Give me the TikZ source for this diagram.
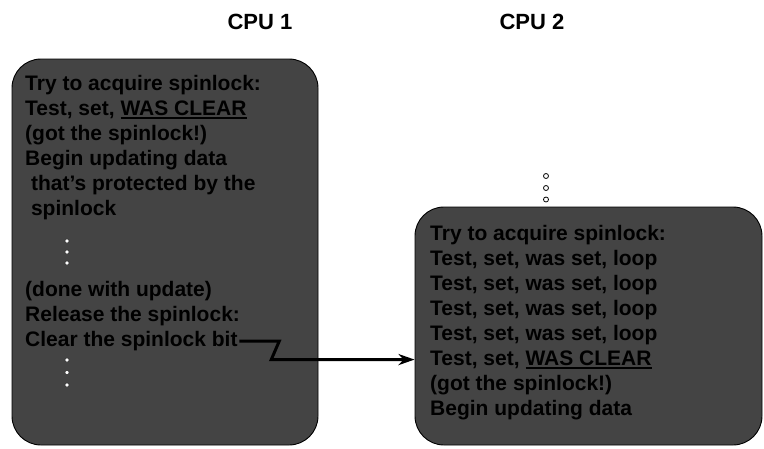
\documentclass[tikz,border=0pt]{standalone}
\usepackage{fontspec}
\setmainfont{Liberation Sans}
\usetikzlibrary{arrows.meta}
\definecolor{panelgray}{RGB}{68,68,68}
% underlined word with a heavier rule
\newcommand\heavyul[1]{\setbox0=\hbox{#1}\rlap{\rule[-3.6pt]{\wd0}{1.8pt}}\box0}
\tikzset{
  panel/.style={draw=black, line width=0.9pt, fill=panelgray, rounded corners=29pt, inner sep=0pt},
  txt/.style={anchor=base west, inner sep=0pt, text=black, font=\fontsize{21}{25}\selectfont\bfseries},
  head/.style={anchor=base, inner sep=0pt, font=\fontsize{22}{26}\selectfont\bfseries},
  ldot/.style={circle, draw=black!80, fill=white, line width=0.6pt, minimum size=4.2pt, inner sep=0pt},
  rdot/.style={circle, draw=black, fill=white, line width=0.8pt, minimum size=5pt, inner sep=0pt},
  conn/.style={line width=3pt, -{Stealth[length=16pt, width=11pt, inset=5pt]}}
}
\begin{document}
\begin{tikzpicture}[x=1pt, y=-1pt]
\useasboundingbox (0,0) rectangle (764,448);

% column headers
\node[head] (h1) at (260,29) {CPU 1};
\node[head] (h2) at (532,29) {CPU 2};

% the two CPU panels
\node[panel, minimum width=306pt, minimum height=386pt] (box1) at (165,252) {};
\node[panel, minimum width=347pt, minimum height=238pt] (box2) at (588.5,326) {};

% CPU 1 steps
\node[txt] (l1) at (25,90.5)  {Try to acquire spinlock:};
\node[txt] (l2) at (25,115.5) {Test, set, \heavyul{WAS CLEAR}};
\node[txt] (l3) at (25,140.5) {(got the spinlock!)};
\node[txt] (l4) at (25,165.5) {Begin updating data};
\node[txt] (l5) at (25,190.5) {\ that’s protected by the};
\node[txt] (l6) at (25,215.5) {\ spinlock};
\node[ldot] (a1) at (67,241) {};
\node[ldot] (a2) at (67,252) {};
\node[ldot] (a3) at (67,263) {};
\node[txt] (l7) at (25,296.5) {(done with update)};
\node[txt] (l8) at (25,321.5) {Release the spinlock:};
\node[txt] (l9) at (25,346.5) {Clear the spinlock bit};
\node[ldot] (b1) at (67,360) {};
\node[ldot] (b2) at (67,372.5) {};
\node[ldot] (b3) at (67,385) {};

% CPU 2 steps
\node[rdot] (c1) at (546,176) {};
\node[rdot] (c2) at (546,188) {};
\node[rdot] (c3) at (546,199.5) {};
\node[txt] (r1) at (430,240.5) {Try to acquire spinlock:};
\node[txt] (r2) at (430,265.5) {Test, set, was set, loop};
\node[txt] (r3) at (430,290.5) {Test, set, was set, loop};
\node[txt] (r4) at (430,315.5) {Test, set, was set, loop};
\node[txt] (r5) at (430,340.5) {Test, set, was set, loop};
\node[txt] (r6) at (430,365.5) {Test, set, \heavyul{WAS CLEAR}};
\node[txt] (r7) at (430,390.5) {(got the spinlock!)};
\node[txt] (r8) at (430,415.5) {Begin updating data};

% release on CPU 1 lets CPU 2 acquire the lock
\draw[conn] ([xshift=1.5pt]l9.east) -- ++(40,0) -- ++(-8,18.5) coordinate (k)
  -- (k -| box2.west);
\end{tikzpicture}
\end{document}
